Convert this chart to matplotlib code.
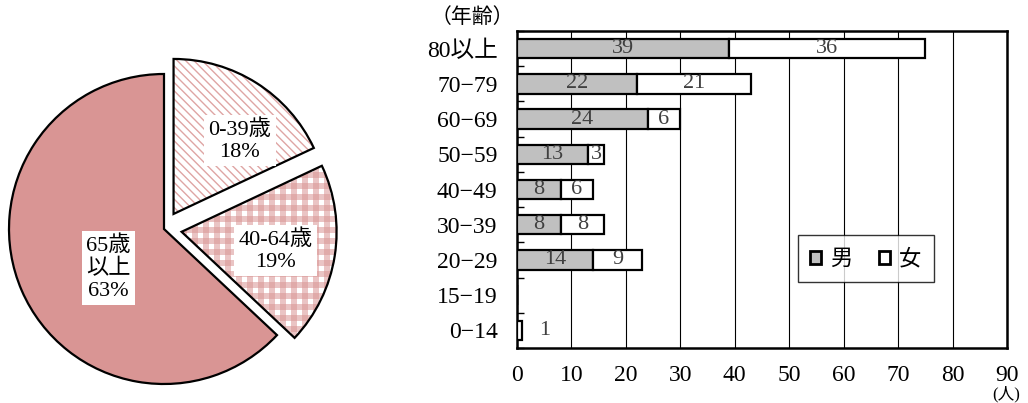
import matplotlib
matplotlib.use("Agg")
import matplotlib.pyplot as plt
from matplotlib.patches import Wedge, Patch, Rectangle
import numpy as np

plt.rcParams["font.family"] = ["Liberation Serif", "Noto Sans CJK JP"]

# ── Data ──────────────────────────────────────────────────────────────────────
pie_labels = ["0-39歳", "40-64歳", "65歳\n以上"]
pie_shares = [18, 19, 63]

age_groups = ["80以上", "70−79", "60−69", "50−59", "40−49", "30−39", "20−29", "15−19", "0−14"]
male = [39, 22, 24, 13, 8, 8, 14, 0, 0]
female = [36, 21, 6, 3, 6, 8, 9, 0, 1]
x_ticks = [0, 10, 20, 30, 40, 50, 60, 70, 80, 90]

PINK = "#D99594"
GRAY = "#C0C0C0"
W, H = 1028, 403

fig = plt.figure(figsize=(W / 100, H / 100), dpi=100)

# ── Pie (axes in pixel units) ─────────────────────────────────────────────────
ax_pie = fig.add_axes([0, 0, 340 / W, 1])
cx, cy, R = 164, 174, 155
explode_px = 0.115 * R
wedges, _ = ax_pie.pie(
    pie_shares,
    startangle=90,
    counterclock=False,
    explode=[explode_px, explode_px, 0],
    center=(cx, cy),
    radius=R,
)
ax_pie.set_xlim(0, 340)
ax_pie.set_ylim(0, H)
ax_pie.set_aspect("equal")
ax_pie.axis("off")


def gingham(ax, clip, period=11, band=6, alpha=0.55):
    # horizontal and vertical translucent bands -> darker squares where they cross
    x0, x1 = clip.center[0] - clip.r, clip.center[0] + clip.r
    y0, y1 = clip.center[1] - clip.r, clip.center[1] + clip.r
    for xs in np.arange(x0, x1, period):
        r = Rectangle((xs, y0), band, y1 - y0, facecolor=PINK, edgecolor="none", alpha=alpha)
        ax.add_patch(r)
        r.set_clip_path(clip)
    for ys in np.arange(y0, y1, period):
        r = Rectangle((x0, ys), x1 - x0, band, facecolor=PINK, edgecolor="none", alpha=alpha)
        ax.add_patch(r)
        r.set_clip_path(clip)


styles = ["diag", "gingham", "solid"]
for w, st in zip(wedges, styles):
    w.set_visible(False)
    base = Wedge(w.center, w.r, w.theta1, w.theta2,
                 facecolor=PINK if st == "solid" else "white", edgecolor="none", linewidth=0)
    ax_pie.add_patch(base)
    if st == "diag":
        plt.rcParams["hatch.linewidth"] = 1.0
        ax_pie.add_patch(Wedge(w.center, w.r, w.theta1, w.theta2, facecolor="none",
                               edgecolor=PINK, hatch="\\\\\\\\", linewidth=0, alpha=0.85))
    elif st == "gingham":
        gingham(ax_pie, base)
    ax_pie.add_patch(Wedge(w.center, w.r, w.theta1, w.theta2, fill=False,
                           edgecolor="black", linewidth=1.6, joinstyle="miter"))

label_offsets = [(0.49, 0.57), (0.72, -0.14), (-0.36, -0.25)]
for lab, share, (dx, dy) in zip(pie_labels, pie_shares, label_offsets):
    ax_pie.text(cx + dx * R, cy + dy * R, f"{lab}\n{share}%", ha="center", va="center",
                fontsize=16, linespacing=1.2, zorder=5,
                bbox=dict(facecolor="white", edgecolor="none", pad=3))

# ── Bar chart ────────────────────────────────────────────────────────────────
ax = fig.add_axes([517 / W, 1 - 348 / H, 490 / W, 317 / H])
y = np.arange(len(age_groups))
bar_h = 0.55
ax.barh(y, male, height=bar_h, color=GRAY, edgecolor="black", linewidth=1.6, zorder=3)
ax.barh(y, female, left=male, height=bar_h, color="white", edgecolor="black",
        linewidth=1.6, zorder=3)

for yi, m, f in zip(y, male, female):
    if m > 0:
        ax.text(m / 2, yi, str(m), ha="center", va="center", fontsize=16,
                color="#404040", zorder=4)
    if f > 0:
        xf = m + f / 2 if f >= 3 else m + f + 4
        ax.text(xf, yi, str(f), ha="center", va="center", fontsize=16,
                color="#404040", zorder=4)

ax.set_xlim(0, 90)
ax.set_ylim(len(age_groups) - 0.5, -0.5)
ax.set_xticks(x_ticks)
ax.set_xticklabels([str(t) for t in x_ticks], fontsize=17)
ax.tick_params(axis="x", length=0, pad=12)
ax.grid(axis="x", color="black", linewidth=0.8, zorder=0)

ax.set_yticks(np.arange(len(age_groups) + 1) - 0.5)
ax.set_yticklabels([])
ax.tick_params(axis="y", which="major", direction="in", length=5, width=1)
ax.set_yticks(y, minor=True)
ax.set_yticklabels(age_groups, minor=True, fontsize=17)
ax.tick_params(axis="y", which="minor", length=0, pad=14)

for s in ax.spines.values():
    s.set_linewidth(1.8)

fig.text(514 / W, 1 - 18 / H, "（年齢）", ha="right", va="center", fontsize=15)
fig.text(1006 / W, 1 - 394 / H, "(人)", ha="center", va="center", fontsize=12)

handles = [Patch(facecolor=GRAY, edgecolor="black", linewidth=2.0, label="男"),
           Patch(facecolor="white", edgecolor="black", linewidth=2.0, label="女")]
leg = ax.legend(handles=handles, loc="center", bbox_to_anchor=(0.712, 0.282), ncol=2,
                frameon=True, fancybox=False, handlelength=0.5,
                handleheight=0.5, handletextpad=0.4, columnspacing=1.2,
                borderpad=0.55, borderaxespad=0,
                prop={"family": ["Noto Sans CJK JP"], "size": 16})
leg.get_frame().set_edgecolor("black")
leg.get_frame().set_linewidth(1.0)
leg.set_zorder(5)

fig.savefig("out.png", dpi=100)
